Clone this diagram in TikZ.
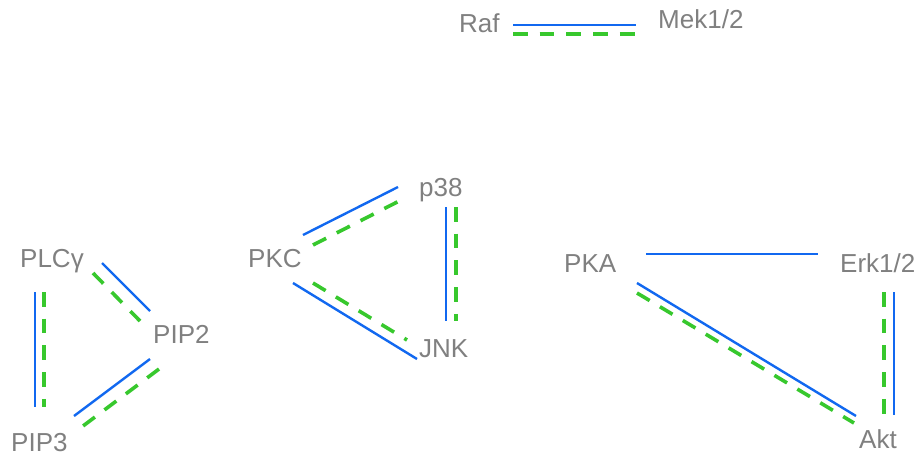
\documentclass[tikz,border=0pt]{standalone}
\usepackage{fontspec}
\setmainfont{Liberation Sans}
\usetikzlibrary{calc}
\definecolor{lblue}{RGB}{17,104,240}
\definecolor{lgreen}{RGB}{55,200,45}
\definecolor{lgray}{RGB}{128,128,128}
\tikzset{
  lab/.style={anchor=base west, inner sep=0pt, text=lgray, font=\fontsize{26}{31}\selectfont},
  bl/.style={draw=lblue, line width=2.4pt},
  gr/.style={draw=lgreen, line width=3.6pt, dash pattern=on 14.7pt off 12pt}
}
\begin{document}
\begin{tikzpicture}[x=1pt,y=-1pt]
\useasboundingbox[fill=white] (0,0) rectangle (923,456);
\node[lab] (raf)  at (459,32)  {Raf};
\node[lab] (mek)  at (658,28)  {Mek1/2};
\node[lab] (plc)  at (20,267)  {PLCγ};
\node[lab] (pip2) at (153,343) {PIP2};
\node[lab] (pip3) at (11,451)  {PIP3};
\node[lab] (pkc)  at (248,267) {PKC};
\node[lab] (p38)  at (419,196) {p38};
\node[lab] (jnk)  at (419,357) {JNK};
\node[lab] (pka)  at (564,272) {PKA};
\node[lab] (erk)  at (840,272) {Erk1/2};
\node[lab] (akt)  at (859,448) {Akt};
% Raf - Mek
\draw[bl] ($(raf.base west)+(54,-7)$) -- ($(mek.base west)+(-22,-3)$);
\draw[gr] ($(raf.base west)+(54,2)$) -- ($(mek.base west)+(-22,6)$);
% PLC - PIP2
\draw[bl] ($(plc.base west)+(82,-4)$) -- ($(pip2.base west)+(-3,-32)$);
\draw[gr] ($(plc.base west)+(73,6)$) -- ($(pip2.base west)+(-13,-22)$);
% PLC - PIP3
\draw[bl] ($(plc.base west)+(15,25)$) -- ($(pip3.base west)+(24,-44)$);
\draw[gr] ($(plc.base west)+(24,25)$) -- ($(pip3.base west)+(33,-44)$);
% PIP2 - PIP3
\draw[bl] ($(pip2.base west)+(-3,16)$) -- ($(pip3.base west)+(63,-35)$);
\draw[gr] ($(pip2.base west)+(6,26)$) -- ($(pip3.base west)+(72,-25)$);
% PKC - p38
\draw[bl] ($(pkc.base west)+(55,-32)$) -- ($(p38.base west)+(-21,-9)$);
\draw[gr] ($(pkc.base west)+(65,-22)$) -- ($(p38.base west)+(-12,1)$);
% PKC - JNK
\draw[bl] ($(pkc.base west)+(45,16)$) -- ($(jnk.base west)+(-2,2)$);
\draw[gr] ($(pkc.base west)+(65,16)$) -- ($(jnk.base west)+(-12,-17)$);
% p38 - JNK
\draw[bl] ($(p38.base west)+(27,11)$) -- ($(jnk.base west)+(27,-36)$);
\draw[gr] ($(p38.base west)+(37,11)$) -- ($(jnk.base west)+(37,-36)$);
% PKA - Erk
\draw[bl] ($(pka.base west)+(82,-18)$) -- ($(erk.base west)+(-22,-18)$);
% PKA - Akt
\draw[bl] ($(pka.base west)+(73,11)$) -- ($(akt.base west)+(-3,-32)$);
\draw[gr] ($(pka.base west)+(73,21)$) -- ($(akt.base west)+(-5,-25)$);
% Erk - Akt
\draw[gr] ($(erk.base west)+(44,20)$) -- ($(akt.base west)+(25,-33)$);
\draw[bl] ($(erk.base west)+(54,20)$) -- ($(akt.base west)+(35,-33)$);
\end{tikzpicture}
\end{document}
